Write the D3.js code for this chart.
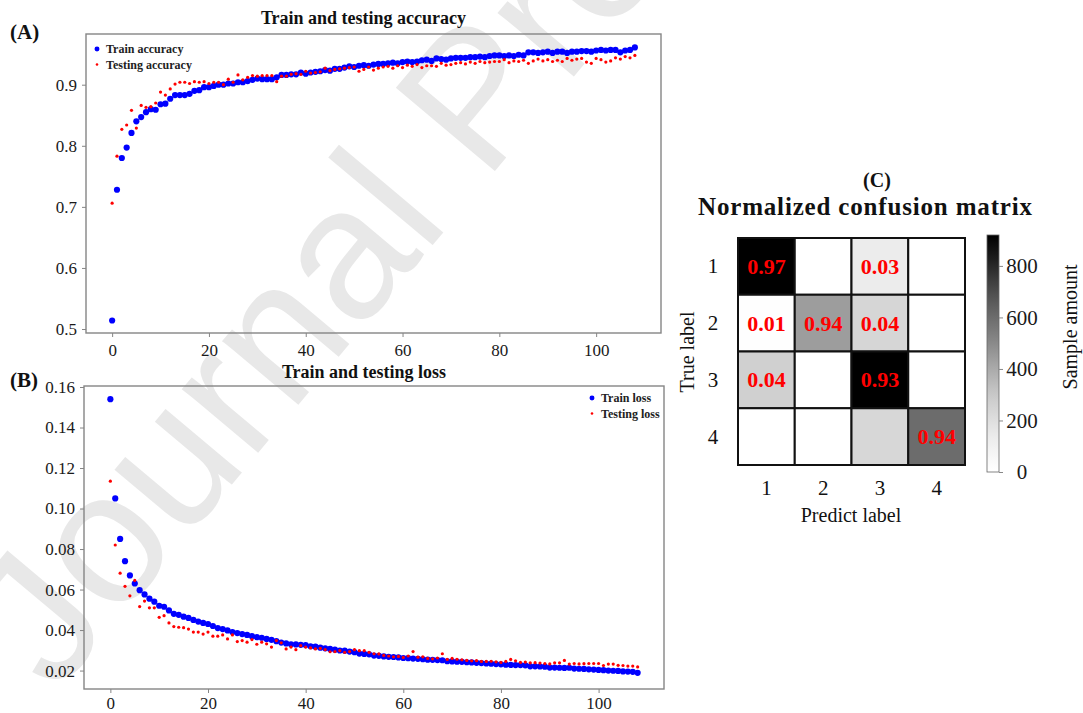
<!DOCTYPE html>
<html><head><meta charset="utf-8">
<script src="https://cdn.jsdelivr.net/npm/d3@7"></script>
<style>
body{margin:0;background:#fff}
svg{display:block}
text{font-family:"Liberation Serif","Times New Roman",serif}
</style>
</head><body>
<svg id="chart" width="1083" height="713"></svg>
<script>
// ---------------- data ----------------
const trainAcc = [
0.514,0.728,0.780,0.797,0.821,0.840,0.847,0.855,0.860,0.859,
0.868,0.869,0.877,0.883,0.883,0.883,0.885,0.890,0.891,0.896,
0.896,0.898,0.900,0.900,0.902,0.902,0.904,0.904,0.906,0.908,
0.910,0.909,0.909,0.909,0.912,0.916,0.916,0.917,0.917,0.920,
0.918,0.920,0.921,0.922,0.924,0.923,0.926,0.926,0.928,0.930,
0.929,0.931,0.932,0.931,0.933,0.934,0.934,0.935,0.936,0.935,
0.937,0.938,0.937,0.938,0.940,0.941,0.939,0.943,0.942,0.941,
0.943,0.944,0.944,0.944,0.945,0.945,0.946,0.945,0.947,0.948,
0.948,0.947,0.948,0.947,0.949,0.948,0.953,0.953,0.952,0.953,
0.954,0.952,0.954,0.954,0.952,0.954,0.954,0.955,0.955,0.954,
0.956,0.957,0.956,0.957,0.957,0.953,0.956,0.957,0.961];
const testAcc = [
0.706,0.783,0.827,0.834,0.858,0.829,0.866,0.863,0.864,0.870,
0.888,0.883,0.893,0.901,0.904,0.904,0.902,0.905,0.904,0.905,
0.902,0.904,0.904,0.900,0.909,0.904,0.916,0.908,0.912,0.915,
0.914,0.915,0.915,0.915,0.905,0.914,0.914,0.917,0.918,0.917,
0.922,0.919,0.920,0.921,0.927,0.923,0.925,0.926,0.927,0.928,
0.929,0.922,0.925,0.929,0.924,0.927,0.929,0.930,0.927,0.931,
0.928,0.932,0.930,0.933,0.928,0.931,0.931,0.930,0.935,0.932,
0.933,0.935,0.936,0.934,0.937,0.935,0.938,0.936,0.937,0.938,
0.938,0.941,0.936,0.939,0.938,0.940,0.935,0.939,0.942,0.939,
0.941,0.938,0.940,0.938,0.943,0.940,0.942,0.943,0.937,0.935,
0.943,0.941,0.937,0.939,0.944,0.942,0.946,0.944,0.948];
const trainLoss = [
0.154,0.105,0.085,0.074,0.067,0.063,0.0597,0.0576,0.0555,0.054,
0.052,0.0515,0.0497,0.048,0.0475,0.0466,0.046,0.045,0.0442,0.0435,
0.043,0.042,0.041,0.0405,0.0398,0.039,0.0385,0.038,0.0376,0.037,
0.0365,0.0362,0.0356,0.0352,0.0345,0.0338,0.0334,0.033,0.0329,0.0327,
0.0326,0.032,0.0318,0.0313,0.031,0.0307,0.0303,0.0299,0.0298,0.0294,
0.0291,0.0284,0.0282,0.028,0.0274,0.0273,0.027,0.0268,0.0267,0.0265,
0.0262,0.0261,0.0259,0.0258,0.0256,0.0254,0.0253,0.0252,0.0251,0.0246,
0.0245,0.0244,0.0243,0.0241,0.024,0.0238,0.0237,0.0235,0.0234,0.0232,
0.0231,0.0229,0.0228,0.0227,0.0227,0.0226,0.0221,0.0221,0.022,0.0219,
0.0215,0.0215,0.0214,0.0213,0.0214,0.021,0.0209,0.0208,0.0206,0.0205,
0.0203,0.0202,0.02,0.0199,0.0198,0.0196,0.0195,0.0194,0.0189];
const testLoss = [
0.1135,0.082,0.0681,0.0616,0.0569,0.0645,0.0516,0.0543,0.051,0.051,
0.0463,0.0471,0.0435,0.0417,0.0414,0.0412,0.0405,0.039,0.039,0.038,
0.039,0.037,0.037,0.0376,0.0356,0.0376,0.0343,0.0348,0.034,0.0353,
0.033,0.034,0.0332,0.0316,0.0348,0.0337,0.0307,0.0316,0.0303,0.0323,
0.0316,0.0312,0.0307,0.031,0.0303,0.0293,0.0294,0.0298,0.029,0.0294,
0.0303,0.0298,0.0298,0.029,0.0283,0.0282,0.0275,0.0272,0.0268,0.027,
0.0265,0.0272,0.0294,0.0266,0.0268,0.026,0.0258,0.0262,0.0283,0.0255,
0.026,0.0256,0.0253,0.025,0.0248,0.0249,0.0245,0.0245,0.0246,0.0243,
0.024,0.0245,0.0255,0.0248,0.024,0.0242,0.0238,0.0239,0.0237,0.0235,
0.0233,0.0238,0.0238,0.025,0.0232,0.0235,0.0233,0.0234,0.0235,0.0235,
0.0235,0.0225,0.0232,0.0232,0.0226,0.0225,0.0222,0.0222,0.0218];

const epochTicks = [0,20,40,60,80,100];
const accTicks = [0.5,0.6,0.7,0.8,0.9];
const lossTicks = [0.02,0.04,0.06,0.08,0.10,0.12,0.14,0.16];

const cmLabels = ["1","2","3","4"];
const cmCounts = [
  [920,0,130,0],
  [8,440,240,0],
  [265,0,920,0],
  [0,0,235,600]];
const cmText = [
  ["0.97","","0.03",""],
  ["0.01","0.94","0.04",""],
  ["0.04","","0.93",""],
  ["","","","0.94"]];
const cbTicks = [0,200,400,600,800];
const cbMax = 920;

// ---------------- drawing ----------------
const SERIF = "'Liberation Serif','Times New Roman',serif";
const svg = d3.select("#chart");

// watermark
svg.append("text")
  .attr("transform","translate(55,695) rotate(-50)")
  .style("font-family","'Liberation Sans',Arial,sans-serif")
  .attr("font-size",188)
  .attr("fill","#e8e8e8")
  .text("Journal Pre-proof");

function styleAxis(a, size){
  a.attr("font-family",SERIF);
  a.select(".domain").remove();
  a.selectAll("line").attr("stroke","#858585");
  a.selectAll("text").attr("font-size",size).attr("fill","#1a1a1a").style("font-family",SERIF);
}

function scatterPanel(cfg){
  const {x0,x1,y0,y1,ydom,yticks,yfmt,series,title,titleY,tag,tagY,legend,xpad} = cfg;
  const x = d3.scaleLinear().domain([-5.4,113.4]).range([x0,x1]);
  const y = d3.scaleLinear().domain(ydom).range([y1,y0]);
  const g = svg.append("g");
  g.append("rect").attr("x",x0).attr("y",y0).attr("width",x1-x0).attr("height",y1-y0)
    .attr("fill","none").attr("stroke","#858585").attr("stroke-width",1.4);
  const ax = g.append("g").attr("transform",`translate(0,${y1})`)
    .call(d3.axisBottom(x).tickValues(epochTicks).tickSize(4).tickPadding(xpad).tickFormat(d3.format("d")));
  const ay = g.append("g").attr("transform",`translate(${x0},0)`)
    .call(d3.axisLeft(y).tickValues(yticks).tickSize(4).tickPadding(5).tickFormat(d3.format(yfmt)));
  styleAxis(ax,17); styleAxis(ay,17);
  series.forEach(s=>{
    g.append("g").selectAll("circle").data(s.values).join("circle")
      .attr("cx",(d,i)=>x(i)).attr("cy",d=>y(d)).attr("r",s.r).attr("fill",s.color);
  });
  g.append("text").attr("x",(x0+x1)/2 - 10).attr("y",titleY).attr("text-anchor","middle")
    .attr("font-size",18).attr("font-weight","bold").attr("fill","#111").text(title);
  g.append("text").attr("x",10).attr("y",tagY).attr("font-size",21).attr("font-weight","bold")
    .attr("fill","#111").text(tag);
  series.forEach((s,i)=>{
    const ly = legend.y + i*15.5;
    g.append("circle").attr("cx",legend.x).attr("cy",ly).attr("r",s.r*0.8).attr("fill",s.color);
    g.append("text").attr("x",legend.x+9).attr("y",ly+4).attr("font-size",12).attr("font-weight","bold")
      .attr("fill","#222").text(s.name);
  });
}

scatterPanel({x0:86,x1:661,y0:34,y1:333,ydom:[0.4935,0.983],yticks:accTicks,yfmt:".1f",xpad:7,
  series:[{name:"Train accuracy",values:trainAcc,color:"#0000ff",r:3.1},
          {name:"Testing accuracy",values:testAcc,color:"#ff0000",r:1.6}],
  title:"Train and testing accuracy",titleY:24,tag:"(A)",tagY:39,legend:{x:97,y:49}});

scatterPanel({x0:84,x1:664,y0:386,y1:689,ydom:[0.0109,0.1605],yticks:lossTicks,yfmt:".2f",xpad:4,
  series:[{name:"Train loss",values:trainLoss,color:"#0000ff",r:3.1},
          {name:"Testing loss",values:testLoss,color:"#ff0000",r:1.6}],
  title:"Train and testing loss",titleY:378,tag:"(B)",tagY:387,legend:{x:592,y:398}});

// ---------------- confusion matrix ----------------
const cmX0 = 738, cmY0 = 238, cmSize = 227;
const bx = d3.scaleBand().domain(cmLabels).range([cmX0,cmX0+cmSize]);
const by = d3.scaleBand().domain(cmLabels).range([cmY0,cmY0+cmSize]);
const color = d3.scaleSequential(d3.interpolateGreys).domain([0,cbMax]);
const cells = [];
cmCounts.forEach((row,i)=>row.forEach((v,j)=>cells.push({r:cmLabels[i],c:cmLabels[j],v,t:cmText[i][j]})));
const cm = svg.append("g");
cm.selectAll("rect.cell").data(cells).join("rect").attr("class","cell")
  .attr("x",d=>bx(d.c)).attr("y",d=>by(d.r)).attr("width",bx.bandwidth()).attr("height",by.bandwidth())
  .attr("fill",d=>color(d.v)).attr("stroke","#111").attr("stroke-width",2);
cm.selectAll("text.val").data(cells.filter(d=>d.t)).join("text").attr("class","val")
  .attr("x",d=>bx(d.c)+bx.bandwidth()/2).attr("y",d=>by(d.r)+by.bandwidth()/2+7.5)
  .attr("text-anchor","middle").attr("font-size",22).attr("font-weight","bold").attr("fill","#ff0000")
  .text(d=>d.t);
cm.selectAll("text.rl").data(cmLabels).join("text").attr("class","rl")
  .attr("x",713).attr("y",d=>by(d)+by.bandwidth()/2+7).attr("text-anchor","middle")
  .attr("font-size",21).attr("fill","#111").text(d=>d);
cm.selectAll("text.cl").data(cmLabels).join("text").attr("class","cl")
  .attr("x",d=>bx(d)+bx.bandwidth()/2).attr("y",495).attr("text-anchor","middle")
  .attr("font-size",21).attr("fill","#111").text(d=>d);
cm.append("text").attr("x",851).attr("y",522).attr("text-anchor","middle").attr("font-size",20)
  .attr("fill","#111").text("Predict label");
cm.append("text").attr("transform","translate(694,352) rotate(-90)").attr("text-anchor","middle")
  .attr("font-size",20).attr("fill","#111").text("True label");
cm.append("text").attr("x",877).attr("y",187).attr("text-anchor","middle").attr("font-size",20)
  .attr("font-weight","bold").attr("fill","#111").text("(C)");
cm.append("text").attr("x",865).attr("y",215).attr("text-anchor","middle").attr("font-size",25)
  .attr("font-weight","bold").attr("fill","#111").attr("textLength",334).attr("lengthAdjust","spacing")
  .text("Normalized confusion matrix");

// colorbar
const cbX = 987, cbW = 12, cbTop = 235, cbBot = 472;
const cy = d3.scaleLinear().domain([0,cbMax]).range([cbBot,cbTop]);
const defs = svg.append("defs");
const grad = defs.append("linearGradient").attr("id","cbgrad").attr("x1",0).attr("y1",1).attr("x2",0).attr("y2",0);
d3.range(0,1.0001,0.05).forEach(t=>grad.append("stop").attr("offset",t).attr("stop-color",d3.interpolateGreys(t)));
cm.append("rect").attr("x",cbX).attr("y",cbTop).attr("width",cbW).attr("height",cbBot-cbTop)
  .attr("fill","url(#cbgrad)").attr("stroke","#666").attr("stroke-width",0.8);
const cax = cm.append("g").attr("transform",`translate(${cbX+cbW},0)`)
  .call(d3.axisRight(cy).tickValues(cbTicks).tickSize(4).tickPadding(0).tickFormat(d3.format("d")));
styleAxis(cax,21);
cax.selectAll("line").attr("stroke","#888");
cax.selectAll("text").attr("text-anchor","middle").attr("x",23);
cm.append("text").attr("transform","translate(1077,327) rotate(-90)").attr("text-anchor","middle")
  .attr("font-size",20).attr("fill","#111").text("Sample amount");
</script>
</body></html>
